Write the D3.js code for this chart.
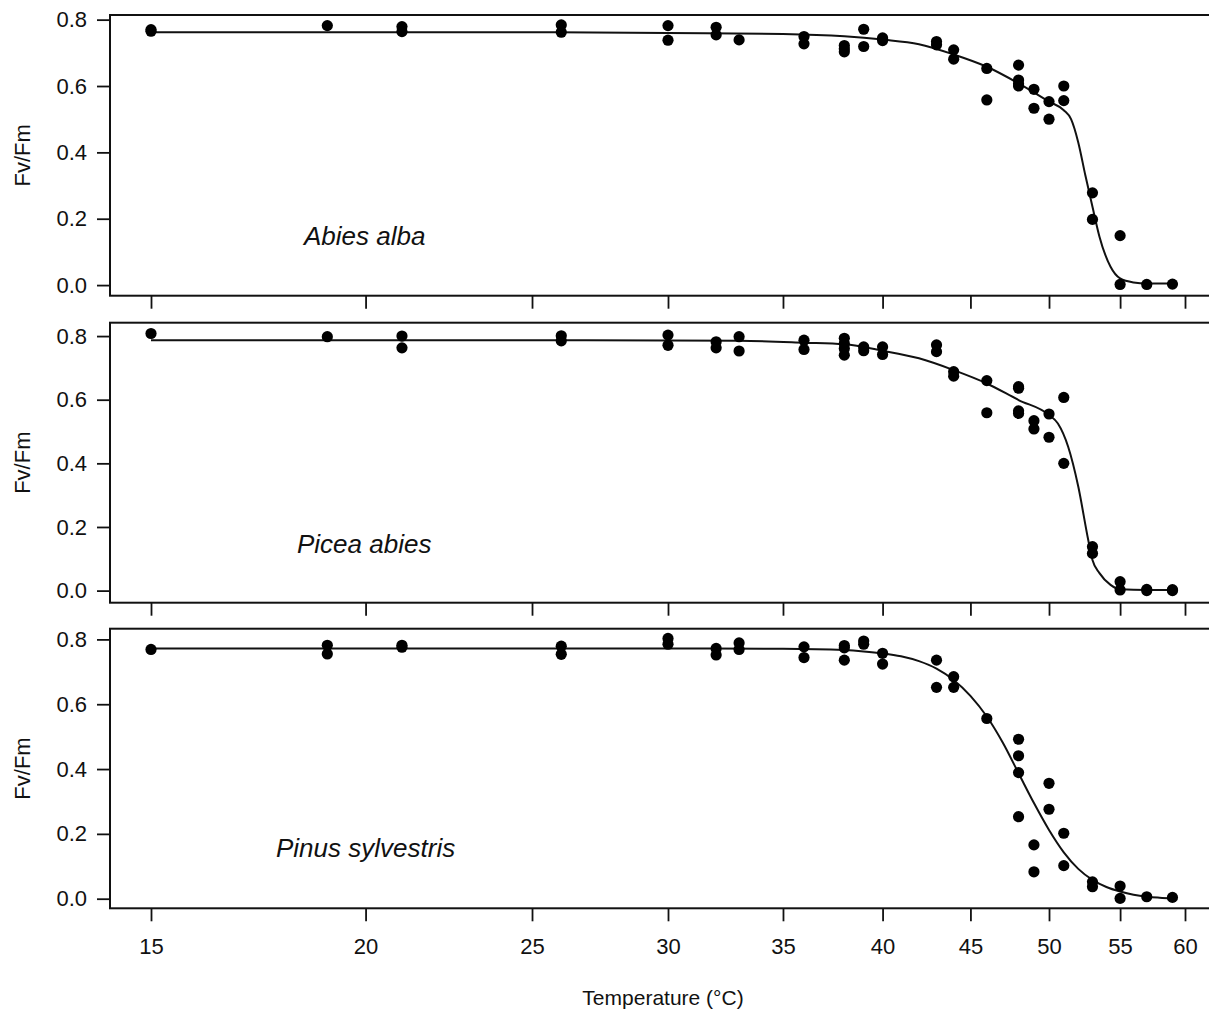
<!DOCTYPE html>
<html>
<head>
<meta charset="utf-8">
<script src="https://cdn.jsdelivr.net/npm/d3@7"></script>
<style>
  html, body { margin: 0; padding: 0; background: #fff; }
  svg { display: block; font-family: "Liberation Sans", Arial, Helvetica, sans-serif; }
</style>
</head>
<body>
<svg id="chart" width="1209" height="1011"></svg>
<script>
// ---------------- DATA ----------------
const tempTicks = [15, 20, 25, 30, 35, 40, 45, 50, 55, 60];
const fvTicks = [0.0, 0.2, 0.4, 0.6, 0.8];
const speciesNames = ["Abies alba", "Picea abies", "Pinus sylvestris"];

// measured points [temperature °C, Fv/Fm]
const abiesPoints = [
  [15,0.770],[15,0.765],[19,0.782],[21,0.779],[21,0.764],[26,0.784],[26,0.762],
  [30,0.782],[30,0.738],[32,0.777],[32,0.754],[33,0.739],[36,0.749],[36,0.727],
  [38,0.722],[38,0.712],[38,0.703],[39,0.771],[39,0.719],[40,0.745],[40,0.737],
  [43,0.734],[43,0.724],[44,0.709],[44,0.681],[46,0.653],[46,0.558],
  [48,0.663],[48,0.618],[48,0.607],[48,0.600],[49,0.590],[49,0.533],
  [50,0.553],[50,0.500],[51,0.600],[51,0.556],[53,0.278],[53,0.198],
  [55,0.149],[55,0.002],[57,0.002],[59,0.003]
];
const piceaPoints = [
  [15,0.808],[19,0.798],[21,0.800],[21,0.763],[26,0.801],[26,0.785],
  [30,0.803],[30,0.771],[32,0.782],[32,0.763],[33,0.798],[33,0.753],
  [36,0.787],[36,0.758],[38,0.793],[38,0.777],[38,0.761],[38,0.740],
  [39,0.766],[39,0.754],[40,0.766],[40,0.742],[43,0.772],[43,0.751],
  [44,0.688],[44,0.674],[46,0.660],[46,0.559],[48,0.641],[48,0.636],[48,0.565],[48,0.557],
  [49,0.534],[49,0.508],[50,0.555],[50,0.482],[51,0.607],[51,0.400],
  [53,0.138],[53,0.117],[55,0.028],[55,0.002],[57,0.004],[57,0.000],[59,0.003],[59,0.000]
];
const pinusPoints = [
  [15,0.769],[19,0.782],[19,0.755],[21,0.782],[21,0.776],[26,0.779],[26,0.754],
  [30,0.803],[30,0.785],[32,0.772],[32,0.752],[33,0.789],[33,0.769],
  [36,0.777],[36,0.744],[38,0.781],[38,0.774],[38,0.736],[39,0.795],[39,0.785],
  [40,0.757],[40,0.724],[43,0.736],[43,0.652],[44,0.685],[44,0.652],[46,0.556],
  [48,0.492],[48,0.441],[48,0.389],[48,0.253],[49,0.166],[49,0.083],
  [50,0.356],[50,0.276],[51,0.202],[51,0.102],[53,0.052],[53,0.037],
  [55,0.039],[55,0.001],[57,0.006],[59,0.004]
];

// fitted curves [temperature °C, Fv/Fm]
const abiesCurve = [
  [15,0.762],[20,0.762],[25,0.762],[30,0.760],[35,0.757],[38,0.750],[40,0.740],
  [42,0.726],[44,0.695],[46,0.658],[48,0.608],[50,0.553],[51,0.527],[51.5,0.500],
  [52,0.430],[52.5,0.330],[53,0.236],[53.5,0.146],[54.3,0.055],[55,0.020],
  [56,0.008],[57,0.005],[59,0.005]
];
const piceaCurve = [
  [15,0.787],[20,0.787],[25,0.787],[30,0.786],[33,0.785],[36,0.779],[38,0.774],
  [40,0.754],[42,0.730],[44,0.693],[46,0.651],[48,0.599],[50,0.552],[50.6,0.525],
  [51.3,0.452],[52,0.327],[52.7,0.159],[53,0.096],[53.5,0.055],[54.3,0.018],
  [55,0.004],[57,0.002],[59,0.002]
];
const pinusCurve = [
  [15,0.772],[20,0.772],[25,0.772],[30,0.772],[35,0.771],[38,0.767],[39,0.763],
  [40,0.757],[41,0.748],[42,0.733],[43,0.710],[44,0.675],[45,0.626],[46,0.562],
  [47,0.481],[48,0.387],[49,0.295],[50,0.212],[51,0.143],[52,0.092],[53,0.058],
  [54,0.036],[55,0.022],[56,0.012],[57,0.006],[58,0.003],[59,0.001]
];

// ---------------- LAYOUT ----------------
const W = 1209, H = 1011;
const boxLeft = 110, boxRight = 1227;
const xRangeLo = 151, xRangeHi = 1185;
const panels = [
  { name: speciesNames[0], points: abiesPoints, curve: abiesCurve,
    top: 15, bottom: 295.7, yDom: [-0.032, 0.814], lx: 304, ly: 245 },
  { name: speciesNames[1], points: piceaPoints, curve: piceaCurve,
    top: 322.7, bottom: 602.7, yDom: [-0.038, 0.842], lx: 297, ly: 553 },
  { name: speciesNames[2], points: pinusPoints, curve: pinusCurve,
    top: 628.7, bottom: 908.3, yDom: [-0.0296, 0.833], lx: 276, ly: 857 }
];

const svg = d3.select("#chart");
svg.append("rect").attr("width", W).attr("height", H).attr("fill", "#fff");

const x = d3.scaleLog().domain([15, 60]).range([xRangeLo, xRangeHi]);

panels.forEach((p, i) => {
  const y = d3.scaleLinear().domain(p.yDom).range([p.bottom, p.top]);
  const g = svg.append("g");

  // box
  g.append("rect")
    .attr("x", boxLeft).attr("y", p.top)
    .attr("width", boxRight - boxLeft).attr("height", p.bottom - p.top)
    .attr("fill", "none").attr("stroke", "#111").attr("stroke-width", 2);

  // y axis
  const ya = g.append("g").attr("transform", `translate(${boxLeft},0)`)
    .call(d3.axisLeft(y).tickValues(fvTicks).tickFormat(d3.format(".1f"))
      .tickSize(13).tickPadding(10));
  ya.select(".domain").remove();
  ya.selectAll(".tick line").attr("stroke", "#111").attr("stroke-width", 1.8);
  ya.selectAll(".tick text").attr("font-size", 22).attr("fill", "#111")
    .attr("font-family", "Liberation Sans, Arial, sans-serif");

  // x axis ticks
  const xa = g.append("g").attr("transform", `translate(0,${p.bottom})`)
    .call(d3.axisBottom(x).tickValues(tempTicks)
      .tickFormat(i === panels.length - 1 ? d3.format("d") : () => "")
      .tickSize(13).tickPadding(17));
  xa.select(".domain").remove();
  xa.selectAll(".tick line").attr("stroke", "#111").attr("stroke-width", 1.8);
  xa.selectAll(".tick text").attr("font-size", 22).attr("fill", "#111")
    .attr("font-family", "Liberation Sans, Arial, sans-serif");

  // y label
  g.append("text")
    .attr("transform", `translate(30,${(p.top + p.bottom) / 2}) rotate(-90)`)
    .attr("text-anchor", "middle")
    .attr("font-size", 22).attr("fill", "#111")
    .text("Fv/Fm");

  // fitted curve
  const line = d3.line()
    .x(d => x(d[0])).y(d => y(d[1]))
    .curve(d3.curveMonotoneX);
  g.append("path").datum(p.curve)
    .attr("d", line).attr("fill", "none")
    .attr("stroke", "#111").attr("stroke-width", 2);

  // points
  g.append("g").selectAll("circle").data(p.points).join("circle")
    .attr("cx", d => x(d[0])).attr("cy", d => y(d[1]))
    .attr("r", 5.6).attr("fill", "#000");

  // species label
  g.append("text")
    .attr("x", p.lx).attr("y", p.ly)
    .attr("font-size", 26).attr("font-style", "italic").attr("fill", "#111")
    .text(p.name);
});

// x title
svg.append("text")
  .attr("x", 663).attr("y", 1005)
  .attr("text-anchor", "middle")
  .attr("font-size", 21).attr("fill", "#111")
  .text("Temperature (°C)");
</script>
</body>
</html>
